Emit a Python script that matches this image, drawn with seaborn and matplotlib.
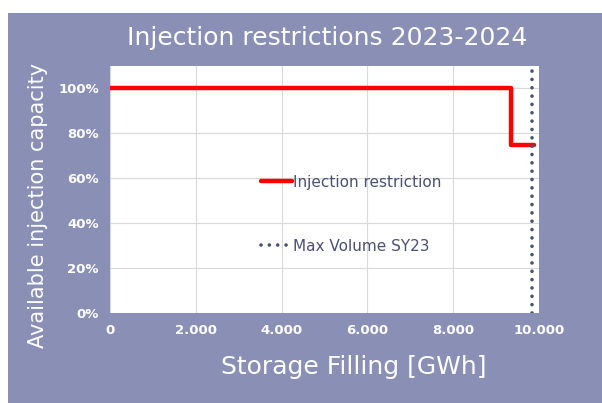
import matplotlib
matplotlib.use("Agg")
import matplotlib.pyplot as plt
import matplotlib.patches as mpatches
from matplotlib.ticker import FuncFormatter
import seaborn as sns

# data
restriction_x = [0, 9350, 9350, 9880]
restriction_y = [1.0, 1.0, 0.75, 0.75]
max_volume_x = [9840, 9840]
max_volume_y = [0.0, 1.1]
x_ticks = [0, 2000, 4000, 6000, 8000, 10000]
y_ticks = [0, 0.2, 0.4, 0.6, 0.8, 1.0]

purple = "#8A8FB6"
text_dark = "#4A5070"

sns.set_theme(style="white")
plt.rcParams["font.family"] = ["DejaVu Sans"]

fig = plt.figure(figsize=(6.02, 4.03), dpi=100)
fig.patch.set_facecolor("white")
fig.patches.append(mpatches.Rectangle((8 / 602, 0), 594 / 602, 1 - 13 / 403,
                                      transform=fig.transFigure, facecolor=purple,
                                      edgecolor="none", zorder=-10))

ax = fig.add_axes([110 / 602, 1 - 313 / 403, 429 / 602, 247 / 403])
ax.set_facecolor("white")

sns.lineplot(x=restriction_x, y=restriction_y, sort=False, estimator=None,
             color="#FF0000", linewidth=3.2, label="Injection restriction",
             ax=ax, zorder=3)
sns.lineplot(x=max_volume_x, y=max_volume_y, sort=False, estimator=None,
             color="#44546A", linewidth=2.6, linestyle=(0, (0.01, 2.3)),
             dash_capstyle="round", label="Max Volume SY23", ax=ax, zorder=4)

ax.set_xlim(0, 10000)
ax.set_ylim(0, 1.1)
ax.set_xticks(x_ticks)
ax.set_yticks(y_ticks)
ax.xaxis.set_major_formatter(FuncFormatter(lambda v, p: f"{int(v):,}".replace(",", ".")))
ax.yaxis.set_major_formatter(FuncFormatter(lambda v, p: f"{v:.0%}"))
ax.grid(True, color="#D9D9D9", linewidth=0.8)
for s in ax.spines.values():
    s.set_visible(False)
ax.tick_params(axis="both", length=0, labelcolor="white", labelsize=9.5, pad=8)
for lbl in ax.get_xticklabels() + ax.get_yticklabels():
    lbl.set_fontweight("bold")

ax.set_xlabel("Storage Filling [GWh]", color="white", fontsize=18)
ax.xaxis.set_label_coords((354 - 110) / 429, -(355 - 313) / 247)
ax.set_ylabel("Available injection capacity", color="white", fontsize=15)
ax.yaxis.set_label_coords(-(110 - 48) / 429, (313 - 205) / 247)

fig.text(327 / 602, 1 - 38 / 403, "Injection restrictions 2023-2024", color="white",
         fontsize=18, ha="center", va="center")

leg = ax.legend(loc="center left", bbox_to_anchor=(0.32, 0.40), frameon=False,
                fontsize=11, labelspacing=3.2, handlelength=2.0, handletextpad=0.1,
                labelcolor=text_dark)

fig.savefig("out.png", dpi=100, facecolor=fig.get_facecolor())
